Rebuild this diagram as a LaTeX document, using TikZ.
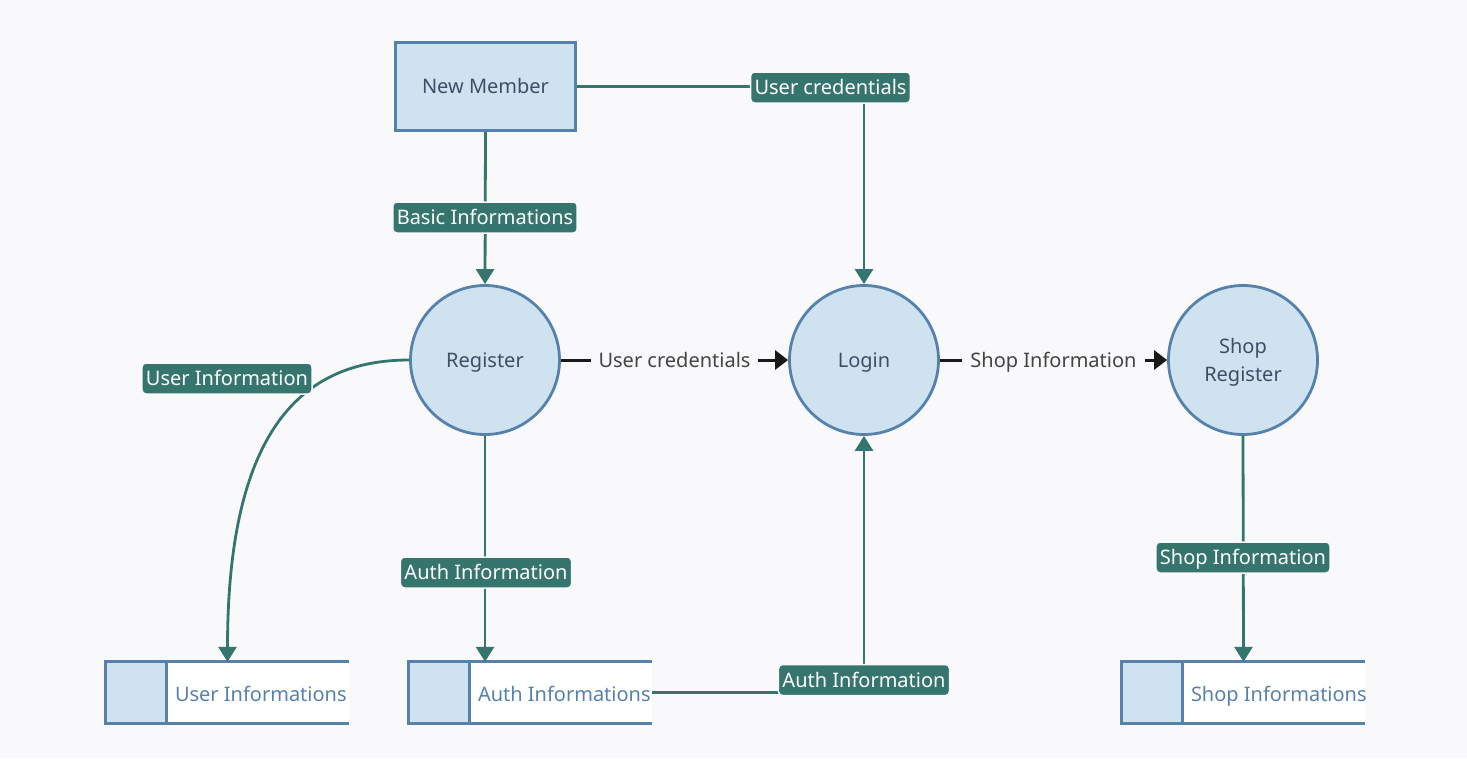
\documentclass[tikz,border=0pt]{standalone}
\usepackage{fontspec}
\setmainfont{Noto Sans}
\usetikzlibrary{arrows.meta,calc}
\definecolor{bg}{HTML}{F9F9FC}
\definecolor{boxfill}{HTML}{CFE2F0}
\definecolor{boxline}{HTML}{5681AB}
\definecolor{flowc}{HTML}{36756E}
\definecolor{nodetext}{HTML}{3D4F66}
\definecolor{plaintext}{HTML}{444444}
\begin{document}
\begin{tikzpicture}[x=1pt,y=-1pt,
  font=\fontsize{20}{24}\selectfont,
  capbox/.style={text height=14.3pt,text depth=0pt},
  proc/.style={circle,draw=boxline,fill=boxfill,line width=2.8pt,minimum size=149pt,inner sep=0pt,text=nodetext,align=center,font=\fontsize{20}{28}\selectfont,capbox},
  ent/.style={rectangle,draw=boxline,fill=boxfill,line width=2.8pt,minimum width=180pt,minimum height=88pt,text=nodetext,capbox},
  store/.style={rectangle,inner sep=0pt,minimum width=243pt,minimum height=61pt},
  storeline/.style={draw=boxline,line width=2.8pt},
  storetext/.style={anchor=west,inner sep=0pt,text=boxline,capbox},
  lbl/.style={rectangle,rounded corners=4pt,fill=flowc,text=white,inner xsep=4pt,inner ysep=0pt,minimum height=31pt,draw=bg,line width=1.5pt,capbox},
  plain/.style={fill=bg,text=plaintext,inner xsep=8pt,inner ysep=3pt,capbox},
  flow/.style={draw=flowc,line width=2.8pt,-{Triangle[width=18pt,length=15pt]}},
  blk/.style={draw=black!90,line width=3pt,-{Triangle[width=19pt,length=13pt]}}
]
\useasboundingbox[fill=bg] (0,0) rectangle (1467,758);

% entities and processes
\node[ent] (nm) at (485.5,86.5) {New Member};
\node[proc] (reg) at (485,360) {Register};
\node[proc] (login) at (864,360) {Login};
\node[proc,text height=43.3pt] (shopreg) at (1243,360) {Shop\\Register};

% data stores
\foreach \n/\cx/\t in {ui/227.5/User Informations, ai/530.5/Auth Informations, si/1243.5/Shop Informations}{
  \node[store] (\n) at (\cx,692.5) {};
  \fill[white] (\n.north west) rectangle (\n.south east);
  \fill[boxfill] (\n.north west) rectangle ($(\n.south west)+(61,0)$);
  \draw[storeline] (\n.north east) -- (\n.north west) -- (\n.south west) -- (\n.south east);
  \draw[storeline] ($(\n.north west)+(61,0)$) -- ($(\n.south west)+(61,0)$);
  \node[storetext] (\n t) at ($(\n.west)+(69,1.5)$) {\t};
}

% flows
\draw[flow] (nm.east) -| (login.north);
\draw[flow] (nm.south) -- (reg.north);
\draw[flow] (reg.west) .. controls +(-105,0) and +(0,-235) .. (ui.north);
\draw[flow] (reg.south) -- (reg.south |- ai.north);
\draw[flow] (ai.east) -| (login.south);
\draw[flow] (shopreg.south) -- (si.north);
\draw[blk] (reg.east) -- (login.west) node[plain,midway] (l5) {User credentials};
\draw[blk] (login.east) -- (shopreg.west) node[plain,midway] (l6) {Shop Information};

% flow labels
\node[lbl] (l1) at (830.5,87.5) {User credentials};
\node[lbl] (l2) at (485,217.5) {Basic Informations};
\node[lbl] (l3) at (227,378.5) {User Information};
\node[lbl] (l4) at (486,572.5) {Auth Information};
\node[lbl] (l7) at (864,680) {Auth Information};
\node[lbl] (l8) at (1243,557.5) {Shop Information};
\end{tikzpicture}
\end{document}
